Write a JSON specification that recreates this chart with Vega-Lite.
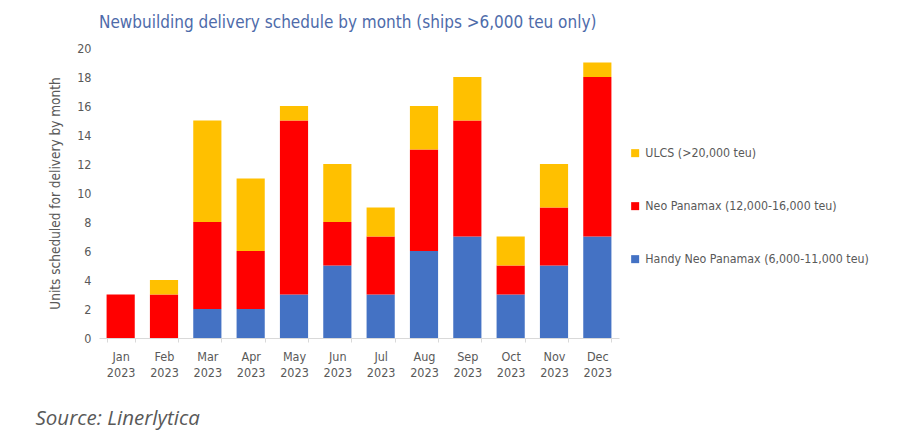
{
  "$schema": "https://vega.github.io/schema/vega-lite/v6.json",
  "autosize": "none",
  "width": 520,
  "height": 290,
  "padding": {"left": 99, "top": 48, "right": 281, "bottom": 106},
  "background": "white",
  "config": {"view": {"stroke": null}, "font": "DejaVu Sans Condensed, sans-serif"},
  "title": {
    "text": "Newbuilding delivery schedule by month (ships >6,000 teu only)",
    "anchor": "start",
    "frame": "group",
    "color": "#4E6BAA",
    "fontSize": 17,
    "fontWeight": "normal",
    "font": "DejaVu Sans Condensed, sans-serif",
    "offset": 10
  },
  "data": {
    "values": [
      {"month": "Jan 2023", "type": "Handy Neo Panamax (6,000-11,000 teu)", "rank": 1, "units": 0},
      {"month": "Jan 2023", "type": "Neo Panamax (12,000-16,000 teu)", "rank": 2, "units": 3},
      {"month": "Jan 2023", "type": "ULCS (>20,000 teu)", "rank": 3, "units": 0},
      {"month": "Feb 2023", "type": "Handy Neo Panamax (6,000-11,000 teu)", "rank": 1, "units": 0},
      {"month": "Feb 2023", "type": "Neo Panamax (12,000-16,000 teu)", "rank": 2, "units": 3},
      {"month": "Feb 2023", "type": "ULCS (>20,000 teu)", "rank": 3, "units": 1},
      {"month": "Mar 2023", "type": "Handy Neo Panamax (6,000-11,000 teu)", "rank": 1, "units": 2},
      {"month": "Mar 2023", "type": "Neo Panamax (12,000-16,000 teu)", "rank": 2, "units": 6},
      {"month": "Mar 2023", "type": "ULCS (>20,000 teu)", "rank": 3, "units": 7},
      {"month": "Apr 2023", "type": "Handy Neo Panamax (6,000-11,000 teu)", "rank": 1, "units": 2},
      {"month": "Apr 2023", "type": "Neo Panamax (12,000-16,000 teu)", "rank": 2, "units": 4},
      {"month": "Apr 2023", "type": "ULCS (>20,000 teu)", "rank": 3, "units": 5},
      {"month": "May 2023", "type": "Handy Neo Panamax (6,000-11,000 teu)", "rank": 1, "units": 3},
      {"month": "May 2023", "type": "Neo Panamax (12,000-16,000 teu)", "rank": 2, "units": 12},
      {"month": "May 2023", "type": "ULCS (>20,000 teu)", "rank": 3, "units": 1},
      {"month": "Jun 2023", "type": "Handy Neo Panamax (6,000-11,000 teu)", "rank": 1, "units": 5},
      {"month": "Jun 2023", "type": "Neo Panamax (12,000-16,000 teu)", "rank": 2, "units": 3},
      {"month": "Jun 2023", "type": "ULCS (>20,000 teu)", "rank": 3, "units": 4},
      {"month": "Jul 2023", "type": "Handy Neo Panamax (6,000-11,000 teu)", "rank": 1, "units": 3},
      {"month": "Jul 2023", "type": "Neo Panamax (12,000-16,000 teu)", "rank": 2, "units": 4},
      {"month": "Jul 2023", "type": "ULCS (>20,000 teu)", "rank": 3, "units": 2},
      {"month": "Aug 2023", "type": "Handy Neo Panamax (6,000-11,000 teu)", "rank": 1, "units": 6},
      {"month": "Aug 2023", "type": "Neo Panamax (12,000-16,000 teu)", "rank": 2, "units": 7},
      {"month": "Aug 2023", "type": "ULCS (>20,000 teu)", "rank": 3, "units": 3},
      {"month": "Sep 2023", "type": "Handy Neo Panamax (6,000-11,000 teu)", "rank": 1, "units": 7},
      {"month": "Sep 2023", "type": "Neo Panamax (12,000-16,000 teu)", "rank": 2, "units": 8},
      {"month": "Sep 2023", "type": "ULCS (>20,000 teu)", "rank": 3, "units": 3},
      {"month": "Oct 2023", "type": "Handy Neo Panamax (6,000-11,000 teu)", "rank": 1, "units": 3},
      {"month": "Oct 2023", "type": "Neo Panamax (12,000-16,000 teu)", "rank": 2, "units": 2},
      {"month": "Oct 2023", "type": "ULCS (>20,000 teu)", "rank": 3, "units": 2},
      {"month": "Nov 2023", "type": "Handy Neo Panamax (6,000-11,000 teu)", "rank": 1, "units": 5},
      {"month": "Nov 2023", "type": "Neo Panamax (12,000-16,000 teu)", "rank": 2, "units": 4},
      {"month": "Nov 2023", "type": "ULCS (>20,000 teu)", "rank": 3, "units": 3},
      {"month": "Dec 2023", "type": "Handy Neo Panamax (6,000-11,000 teu)", "rank": 1, "units": 7},
      {"month": "Dec 2023", "type": "Neo Panamax (12,000-16,000 teu)", "rank": 2, "units": 11},
      {"month": "Dec 2023", "type": "ULCS (>20,000 teu)", "rank": 3, "units": 1}
    ]
  },
  "mark": {"type": "bar"},
  "encoding": {
    "x": {
      "field": "month",
      "type": "nominal",
      "sort": null,
      "scale": {"paddingInner": 0.35, "paddingOuter": 0.175},
      "axis": {
        "title": "Source: Linerlytica",
        "titleFont": "Open Sans, Liberation Sans, sans-serif",
        "titleFontStyle": "italic",
        "titleFontWeight": "normal",
        "titleFontSize": 20.5,
        "titleColor": "#595959",
        "titleAlign": "left",
        "titleAnchor": "start",
        "titleBaseline": "middle",
        "titleX": -64,
        "titleY": 80,
        "labelAngle": 0,
        "labelExpr": "split(datum.label, ' ')",
        "labelFontSize": 12.5,
        "labelColor": "#595959",
        "labelLineHeight": 16,
        "labelPadding": 8,
        "domainColor": "#D9D9D9",
        "tickColor": "#D9D9D9",
        "tickBand": "extent",
        "tickSize": 4
      }
    },
    "y": {
      "field": "units",
      "type": "quantitative",
      "aggregate": "sum",
      "stack": "zero",
      "scale": {"domain": [0, 20]},
      "axis": {
        "title": "Units scheduled for delivery by month",
        "titleFontSize": 13.5,
        "titleFontWeight": "normal",
        "titleColor": "#595959",
        "titlePadding": 14,
        "values": [0, 2, 4, 6, 8, 10, 12, 14, 16, 18, 20],
        "labelFontSize": 12.5,
        "labelColor": "#595959",
        "labelPadding": 8,
        "domain": false,
        "ticks": false,
        "grid": false
      }
    },
    "color": {
      "field": "type",
      "type": "nominal",
      "scale": {
        "domain": ["ULCS (>20,000 teu)", "Neo Panamax (12,000-16,000 teu)", "Handy Neo Panamax (6,000-11,000 teu)"],
        "range": ["#FFC000", "#FF0000", "#4472C4"]
      },
      "legend": {
        "title": null,
        "orient": "none",
        "legendX": 530,
        "legendY": 99,
        "symbolType": "square",
        "symbolSize": 64,
        "symbolStrokeWidth": 0,
        "labelFontSize": 12.3,
        "labelColor": "#595959",
        "labelOffset": 4,
        "labelLimit": 300,
        "rowPadding": 40
      }
    },
    "order": {"field": "rank", "type": "quantitative", "sort": "ascending"}
  }
}
